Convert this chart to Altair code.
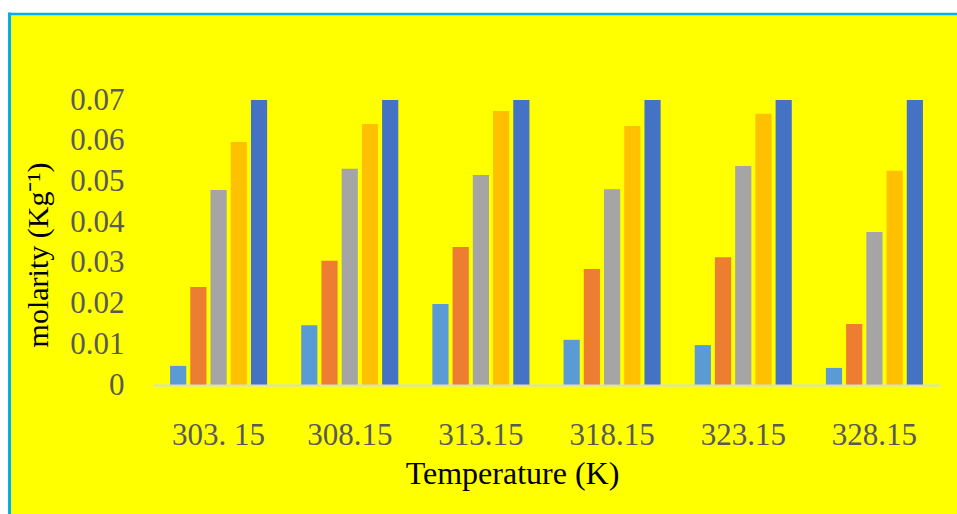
import altair as alt
import pandas as pd

temps = ["303. 15", "308.15", "313.15", "318.15", "323.15", "328.15"]
series_names = ["Series1", "Series2", "Series3", "Series4", "Series5"]
s1 = [0.0047, 0.0147, 0.0199, 0.0111, 0.0098, 0.0042]
s2 = [0.0241, 0.0305, 0.0339, 0.0285, 0.0314, 0.0150]
s3 = [0.0479, 0.0531, 0.0516, 0.0481, 0.0538, 0.0376]
s4 = [0.0597, 0.0641, 0.0673, 0.0636, 0.0666, 0.0526]
s5 = [0.0700, 0.0700, 0.0700, 0.0700, 0.0700, 0.0700]
colors = ["#5B9BD5", "#ED7D31", "#A5A5A5", "#FFC000", "#4472C4"]
y_ticks = [0, 0.01, 0.02, 0.03, 0.04, 0.05, 0.06, 0.07]

rows = []
for name, vals in zip(series_names, [s1, s2, s3, s4, s5]):
    for t, v in zip(temps, vals):
        rows.append({"temp": t, "series": name, "value": v})
df = pd.DataFrame(rows)

FONT = "Liberation Serif"
one = pd.DataFrame({"k": [0]})

frame = alt.Chart(one).mark_rect(fill="#FFFF00").encode(
    x=alt.value(-144), x2=alt.value(850),
    y=alt.value(-87), y2=alt.value(500)
)
left_border = alt.Chart(one).mark_rule(color="#00B0F0", strokeWidth=3).encode(
    x=alt.value(-143.5), y=alt.value(-87.5), y2=alt.value(500)
)
top_border = alt.Chart(one).mark_rule(color="#00B0F0", strokeWidth=2.5).encode(
    x=alt.value(-145), x2=alt.value(850), y=alt.value(-86)
)

bars = alt.Chart(df).mark_bar().encode(
    x=alt.X("temp:N", sort=temps,
            scale=alt.Scale(paddingInner=0.26, paddingOuter=0.13),
            axis=alt.Axis(title="Temperature (K)", labelAngle=0, labelFont=FONT,
                          labelFontSize=31, labelColor="#595959", labelPadding=35,
                          ticks=False, domainColor="#D9D9D9", domainWidth=2,
                          titleFont=FONT, titleFontSize=32, titleFontWeight="normal",
                          titleColor="#000000", titleX=359, titleY=98,
                          titleBaseline="alphabetic", titleAlign="center", zindex=1)),
    xOffset=alt.XOffset("series:N", sort=series_names,
                        scale=alt.Scale(paddingInner=0.2, paddingOuter=0)),
    y=alt.Y("value:Q", scale=alt.Scale(domain=[0, 0.07], nice=False),
            axis=alt.Axis(title="molarity (Kg⁻¹)", values=y_ticks,
                          labelExpr="datum.value == 0 ? '0' : format(datum.value, '.2f')",
                          labelFont=FONT, labelFontSize=31, labelColor="#595959",
                          labelPadding=29, ticks=False, domain=False, grid=False,
                          titleFont=FONT, titleFontSize=30, titleFontWeight="normal",
                          titleColor="#000000", titleX=-106, titleY=154.5,
                          titleBaseline="alphabetic", titleAlign="center", zindex=1)),
    color=alt.Color("series:N", sort=series_names,
                    scale=alt.Scale(domain=series_names, range=colors), legend=None),
)

chart = alt.layer(frame, left_border, top_border, bars).properties(
    width=787, height=285,
    autosize=alt.AutoSizeParams(type="none"),
    padding={"left": 153, "top": 100, "right": 17, "bottom": 129},
    background="white",
).configure_view(stroke=None).configure_axis(grid=False)

chart.save("out.html", embed_options={"renderer": "svg", "actions": False})
